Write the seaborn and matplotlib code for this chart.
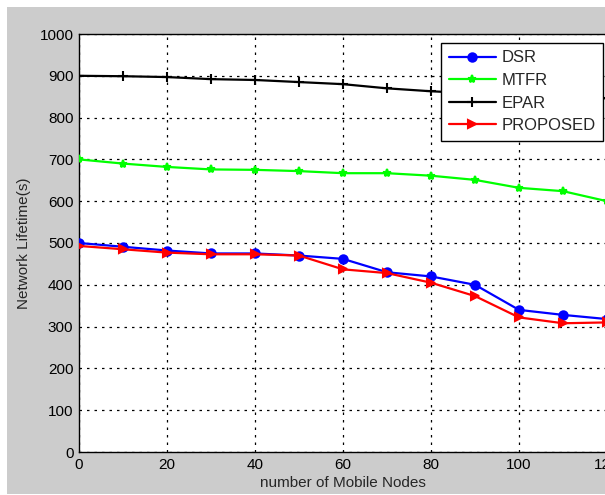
import matplotlib
matplotlib.use("Agg")
import matplotlib.pyplot as plt
import seaborn as sns
import pandas as pd
from matplotlib.patches import Rectangle

nodes = [0, 10, 20, 30, 40, 50, 60, 70, 80, 90, 100, 110, 120]
dsr = [500, 491, 482, 475, 475, 470, 462, 430, 420, 400, 340, 328, 318]
mtfr = [700, 690, 682, 676, 675, 672, 667, 667, 661, 651, 632, 624, 600]
epar = [900, 899, 897, 892, 890, 885, 880, 870, 863, 858, 854, 850, 846]
proposed = [493, 485, 477, 473, 473, 470, 437, 428, 405, 373, 322, 308, 310]
series_names = ["DSR", "MTFR", "EPAR", "PROPOSED"]
x_ticks = [0, 20, 40, 60, 80, 100, 120]
y_ticks = [0, 100, 200, 300, 400, 500, 600, 700, 800, 900, 1000]

sns.set_style("white")
plt.rcParams["font.family"] = ["Liberation Sans Narrow", "Liberation Sans", "DejaVu Sans"]

W, H = 605, 495
fig = plt.figure(figsize=(W / 100, H / 100), dpi=100, facecolor="white")
fig.patches.append(Rectangle((7 / W, 1 / H), 1 - 7 / W, 1 - 8 / H, transform=fig.transFigure,
                             facecolor="#cccccc", edgecolor="none", zorder=-10))
ax = fig.add_axes([79 / W, 1 - 452 / H, 528 / W, 418 / H])
ax.set_facecolor("white")

styles = {
    "DSR": dict(color="#0000ff", marker="o", markersize=6),
    "MTFR": dict(color="#00ff00", marker="*", markersize=6),
    "EPAR": dict(color="black", marker="+", markersize=7),
    "PROPOSED": dict(color="#ff0000", marker=">", markersize=6),
}
data = {"DSR": dsr, "MTFR": mtfr, "EPAR": epar, "PROPOSED": proposed}
for name in series_names:
    st = styles[name]
    sns.lineplot(x=nodes, y=data[name], ax=ax, color=st["color"], marker=st["marker"],
                 markersize=st["markersize"], markeredgecolor=st["color"], markerfacecolor=st["color"],
                 markeredgewidth=1.5, linewidth=1.6, label=name, zorder=3)

ax.set_xlim(0, 120)
ax.set_ylim(0, 1000)
ax.set_xticks(x_ticks)
ax.set_yticks(y_ticks)
ax.grid(True, color="black", linestyle=(0, (2, 4)), linewidth=0.9)
ax.tick_params(direction="in", length=5, width=1, labelsize=11, colors="black", pad=4)
for s in ax.spines.values():
    s.set_color("black")
    s.set_linewidth(1)
ax.set_xlabel("number of Mobile Nodes", fontsize=11, labelpad=3)
ax.set_ylabel("Network Lifetime(s)", fontsize=11, labelpad=6)

leg = ax.legend(loc="upper right", bbox_to_anchor=((603 - 79) / 528, (452 - 43) / 418),
                borderaxespad=0, fontsize=12, frameon=True,
                fancybox=False, edgecolor="black", framealpha=1, borderpad=0.45,
                handlelength=2.8, labelspacing=0.45, handletextpad=0.35)
leg.get_frame().set_linewidth(1)

fig.savefig("out.png", dpi=100, facecolor=fig.get_facecolor())
